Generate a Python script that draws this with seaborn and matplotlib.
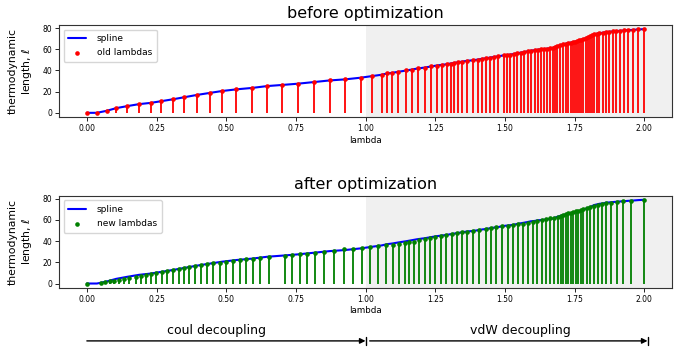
""" Thermodynamic length along lambda, before and after optimization of the lambda schedule. """

import matplotlib
matplotlib.use('Agg')
import seaborn as sns
from matplotlib import pyplot as plt
from matplotlib import transforms

# old (unoptimized) lambda schedule and the thermodynamic length at each point
old_lam = [0.000, 0.036, 0.071, 0.105, 0.144, 0.187, 0.229, 0.267, 0.309, 0.349,
           0.395, 0.441, 0.485, 0.537, 0.592, 0.648, 0.699, 0.756, 0.816, 0.871,
           0.926, 0.983,
           1.023, 1.058, 1.078, 1.096, 1.118, 1.147, 1.166, 1.187, 1.213, 1.235,
           1.255, 1.273, 1.291, 1.305, 1.319, 1.333, 1.347, 1.363, 1.387, 1.402,
           1.417, 1.431, 1.447, 1.461, 1.477, 1.497,
           1.506, 1.518, 1.533, 1.545, 1.557, 1.570, 1.582, 1.594, 1.607, 1.619,
           1.630, 1.642, 1.652, 1.662, 1.672, 1.680, 1.686, 1.698, 1.710, 1.719,
           1.728, 1.736, 1.744, 1.752, 1.760, 1.767, 1.774, 1.782, 1.790, 1.797,
           1.806, 1.813, 1.820, 1.830, 1.839, 1.851, 1.863, 1.875, 1.887, 1.899,
           1.913, 1.928, 1.943, 1.961, 1.979, 2.000]
old_len = [0.0, 0.0, 1.9, 4.4, 6.3, 8.2, 9.4, 11.0, 12.8, 14.7,
           16.9, 18.8, 20.6, 22.2, 23.5, 25.3, 26.3, 27.5, 29.1, 30.6,
           31.6, 33.2,
           34.7, 36.0, 37.2, 37.8, 38.8, 40.0, 40.9, 41.9, 42.8, 43.8,
           44.7, 45.3, 45.9, 46.6, 47.2, 47.8, 48.4, 49.1, 49.7, 50.3,
           51.0, 51.5, 52.2, 52.8, 53.4, 54.4,
           54.7, 55.0, 55.6, 56.3, 56.9, 57.5, 58.1, 58.8, 59.1, 59.7,
           60.0, 60.3, 60.6, 60.9, 61.3, 62.2, 62.8, 63.8, 64.7, 65.3,
           66.0, 66.3, 66.9, 67.2, 67.8, 68.4, 69.1, 69.7, 70.6, 71.3,
           72.2, 73.1, 74.1, 74.7, 75.3, 75.6, 76.3, 76.6, 76.9, 77.2,
           77.5, 77.8, 78.1, 78.4, 78.8, 79.1]

# optimized schedule
new_lam = [0.000, 0.049, 0.065, 0.082, 0.099, 0.115, 0.132, 0.153, 0.175, 0.194,
           0.213, 0.231, 0.249, 0.270, 0.289, 0.310, 0.329, 0.349, 0.367, 0.389,
           0.411, 0.432, 0.454, 0.477, 0.501, 0.524, 0.548, 0.572, 0.596, 0.623,
           0.654, 0.710, 0.737, 0.764, 0.791, 0.820, 0.851, 0.886,
           0.922, 0.956, 0.988, 1.015, 1.045, 1.075, 1.097, 1.120, 1.141, 1.156,
           1.173, 1.193, 1.213, 1.231, 1.250, 1.270, 1.290, 1.309, 1.327, 1.345,
           1.363, 1.387, 1.408, 1.431, 1.452, 1.470, 1.491, 1.510, 1.530, 1.548,
           1.566, 1.584, 1.602, 1.616, 1.632, 1.648, 1.662, 1.676, 1.690, 1.700,
           1.710, 1.719, 1.728, 1.736, 1.746, 1.754, 1.764, 1.772, 1.782, 1.794,
           1.806, 1.820, 1.833, 1.848, 1.863, 1.881, 1.901, 1.925, 1.953, 2.000]
new_len = [0.0, 0.6, 1.3, 2.2, 2.8, 3.5, 4.4, 5.3, 6.3, 7.2,
           8.2, 9.1, 10.0, 11.0, 11.9, 12.9, 13.8, 14.7, 15.7, 16.6,
           17.6, 18.5, 19.1, 19.8, 20.4, 21.0, 22.0, 22.9, 23.5, 24.2,
           25.1, 26.4, 27.0, 27.6, 28.2, 28.9, 29.5, 30.8,
           32.3, 32.9, 33.9, 34.5, 35.1, 36.1, 36.7, 37.3, 38.3, 38.9,
           39.5, 40.8, 42.0, 43.0, 43.9, 44.9, 45.8, 46.7, 47.4, 48.3,
           48.9, 49.6, 50.5, 51.5, 52.4, 53.0, 54.0, 54.6, 55.2, 55.8,
           56.5, 57.4, 58.4, 59.0, 59.6, 60.5, 61.5, 62.1, 63.1, 64.0,
           64.6, 65.6, 66.2, 66.8, 67.5, 68.1, 68.7, 69.6, 70.6, 71.5,
           72.5, 73.1, 74.0, 74.7, 75.6, 76.2, 77.2, 77.8, 78.4, 79.1]

# the spline is drawn through the old points
spline_lam = old_lam
spline_len = old_len

xticks = [0.0, 0.25, 0.5, 0.75, 1.0, 1.25, 1.5, 1.75, 2.0]
yticks = [0, 20, 40, 60, 80]

sns.set_style('ticks')
plt.rcParams['font.family'] = ['DejaVu Sans']
plt.rcParams.update({'text.color': 'black', 'axes.labelcolor': 'black',
                     'xtick.color': 'black', 'ytick.color': 'black'})


def draw_panel(ax, lam, length, color, label, title):
    ax.axvspan(1.0, 2.1, color='#f0f0f0', lw=0, zorder=0)
    ax.vlines(lam, 0, length, color=color, lw=1.3, zorder=2)
    sns.lineplot(x=spline_lam, y=spline_len, color='blue', lw=1.5, label='spline', ax=ax, zorder=3)
    sns.scatterplot(x=lam, y=length, color=color, s=11, linewidth=0, label=label, ax=ax, zorder=4)
    ax.set_xlim(-0.1, 2.1)
    ax.set_ylim(-3.95, 83.0)
    ax.set_xticks(xticks)
    ax.set_xticklabels([f'{t:.2f}' for t in xticks])
    ax.set_yticks(yticks)
    ax.tick_params(labelsize=5.5, length=3, width=0.6, pad=2)
    for sp in ax.spines.values():
        sp.set_visible(True)
        sp.set_color('#333333')
        sp.set_linewidth(0.8)
    ax.set_title(title, fontsize=11.5, pad=5, color='black')
    ax.set_xlabel('lambda', fontsize=6.3, labelpad=2)
    ax.set_ylabel('thermodynamic\nlength, $\\ell$', fontsize=7.8, labelpad=6)
    ax.legend(loc='upper left', fontsize=6.5, frameon=True, edgecolor='#cccccc',
              borderpad=0.5, handletextpad=1.2, labelspacing=0.6)


fig = plt.figure(figsize=(6.75, 3.5), dpi=100)
ax_top = fig.add_axes([0.0874, 0.6657, 0.9082, 0.2629])
ax_bot = fig.add_axes([0.0874, 0.178, 0.9082, 0.263])

draw_panel(ax_top, old_lam, old_len, 'red', 'old lambdas', 'before optimization')
draw_panel(ax_bot, new_lam, new_len, 'green', 'new lambdas', 'after optimization')

# decoupling stage arrows under the bottom panel
blend = transforms.blended_transform_factory(ax_bot.transData, fig.transFigure)
y_arr = 0.026
for x0, x1 in [(0.0, 1.0), (1.015, 2.012)]:
    ax_bot.annotate('', xy=(x1, y_arr), xytext=(x0, y_arr),
                    xycoords=blend, textcoords=blend, annotation_clip=False,
                    arrowprops=dict(arrowstyle='-|>', color='black', lw=1,
                                    shrinkA=0, shrinkB=0, mutation_scale=8))
    ax_bot.plot([x1, x1], [y_arr - 0.012, y_arr + 0.012], color='black', lw=1,
                transform=blend, clip_on=False)

ax_bot.text(0.464, 0.057, 'coul decoupling', transform=blend, ha='center', va='center', fontsize=9)
ax_bot.text(1.556, 0.057, 'vdW decoupling', transform=blend, ha='center', va='center', fontsize=9)

fig.savefig('out.png', dpi=100)
